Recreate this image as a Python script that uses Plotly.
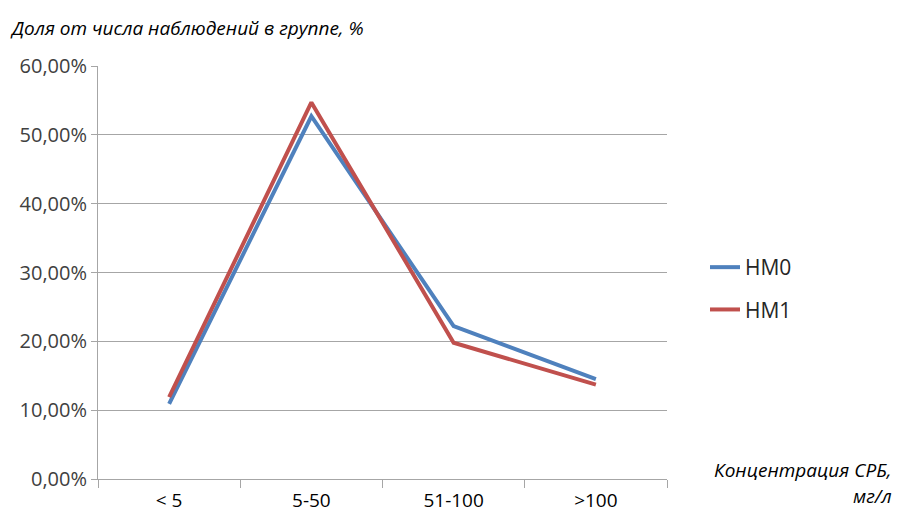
import plotly.graph_objects as go

categories = ["< 5", "5-50", "51-100", ">100"]
hm0 = [10.9, 52.7, 22.2, 14.5]
hm1 = [11.9, 54.7, 19.8, 13.7]
y_ticks = [0, 10, 20, 30, 40, 50, 60]
y_tick_labels = ["0,00%", "10,00%", "20,00%", "30,00%", "40,00%", "50,00%", "60,00%"]

FONT = "Open Sans"
GRID = "#A6A6A6"
W = 569.0
H = 413.0

fig = go.Figure()
fig.add_trace(go.Scatter(x=categories, y=hm0, mode="lines", name="HM0",
                         line=dict(color="#4F81BD", width=4), legendgroup="a"))
fig.add_trace(go.Scatter(x=categories, y=hm1, mode="lines", name="HM1",
                         line=dict(color="#C0504D", width=4), legendgroup="b"))

fig.update_layout(
    width=898, height=513,
    margin=dict(l=98, r=231, t=66, b=34, autoexpand=False),
    paper_bgcolor="white", plot_bgcolor="white",
    font=dict(family=FONT, size=19, color="#404040"),
    showlegend=True,
    legend=dict(x=1 + (710 - 667 - 5) / W, xanchor="left", xref="paper",
                y=(479 - 288.5) / H, yanchor="middle",
                font=dict(family=FONT, size=21, color="#262626"),
                tracegroupgap=12, traceorder="grouped", bgcolor="rgba(0,0,0,0)"),
    xaxis=dict(type="category", range=[-0.5, 3.5], showgrid=False, automargin=False,
               showline=True, linecolor=GRID, linewidth=1,
               ticks="outside", tickson="boundaries", ticklen=8, tickcolor=GRID,
               ticklabelstandoff=4,
               tickfont=dict(family=FONT, size=19, color="#000000"), zeroline=False),
    yaxis=dict(range=[0, 60], tickvals=y_ticks, ticktext=y_tick_labels, automargin=False,
               showgrid=True, gridcolor=GRID, gridwidth=1,
               showline=True, linecolor=GRID, linewidth=1,
               ticks="outside", ticklen=6, tickcolor=GRID, zeroline=False,
               tickfont=dict(family=FONT, size=20, color="#404040")),
    annotations=[
        dict(text="<i>Доля от числа наблюдений в группе, %</i>", xref="paper", yref="paper",
             x=-90 / W, y=1 + (66 - 28) / H, xanchor="left", yanchor="middle", showarrow=False,
             font=dict(family=FONT, size=19, color="#000000")),
        dict(text="<i>Концентрация СРБ,</i>", xref="paper", yref="paper",
             x=1 + (894 - 667) / W, y=(479 - 470) / H, xanchor="right", yanchor="middle",
             showarrow=False, font=dict(family=FONT, size=19, color="#000000")),
        dict(text="<i>мг/л</i>", xref="paper", yref="paper",
             x=1 + (894 - 667) / W, y=(479 - 496) / H, xanchor="right", yanchor="middle",
             showarrow=False, font=dict(family=FONT, size=19, color="#000000")),
    ],
)

fig.write_html("out.html")
